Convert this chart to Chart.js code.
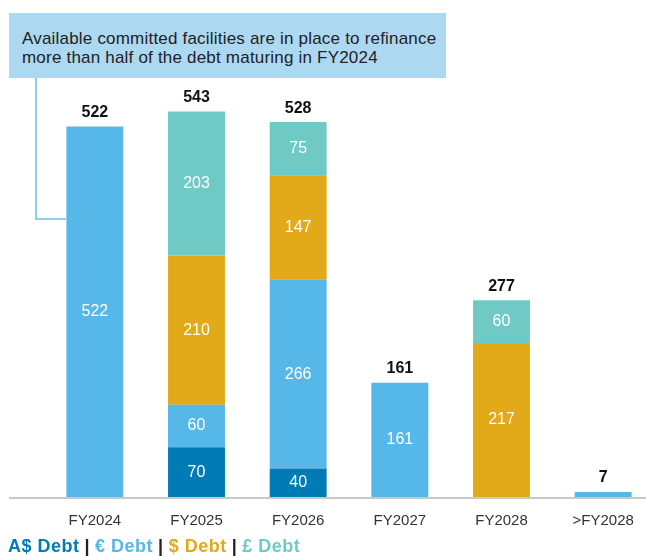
<!DOCTYPE html>
<html>
<head>
<meta charset="utf-8">
<script src="https://cdn.jsdelivr.net/npm/chart.js@4"></script>
<style>
  body { margin: 0; overflow: hidden; background: #fff; font-family: "Liberation Sans", Arial, sans-serif; }
  #wrap { position: relative; width: 646px; height: 556px; overflow: hidden; }
  #callout {
    position: absolute; left: 9px; top: 13px; width: 437px; height: 65px;
    background: #add8f1; color: #222; font-size: 17px; line-height: 19px; letter-spacing: 0.2px;
    box-sizing: border-box; padding: 16px 0 0 13px; white-space: nowrap;
  }
  #connector {
    position: absolute; left: 35px; top: 78px; width: 31px; height: 142px;
    border-left: 2px solid #8dcdf0; border-bottom: 2px solid #8dcdf0; box-sizing: border-box;
  }
  #legend { position: absolute; left: 8px; top: 536px; font-size: 18px; font-weight: bold; letter-spacing: 0.5px; white-space: nowrap; }
  #legend .sep { color: #222; margin: 0 5px; }
  canvas { position: absolute; left: 0; top: 0; }
</style>
</head>
<body>
<div id="wrap">
  <canvas id="debtChart" width="656" height="556"></canvas>
  <div id="callout">Available committed facilities are in place to refinance<br>more than half of the debt maturing in FY2024</div>
  <div id="connector"></div>
  <div id="legend"></div>
</div>
<script>
const years = ['FY2024', 'FY2025', 'FY2026', 'FY2027', 'FY2028', '>FY2028'];
const audDebt = [0, 70, 40, 0, 0, 0];
const eurDebt = [522, 60, 266, 161, 0, 7];
const usdDebt = [0, 210, 147, 0, 217, 0];
const gbpDebt = [0, 203, 75, 0, 60, 0];
const seriesNames = ['A$ Debt', '€ Debt', '$ Debt', '£ Debt'];
const seriesColors = ['#007bb6', '#55b8e8', '#e2a919', '#6fc9c5'];

const seriesValues = [audDebt, eurDebt, usdDebt, gbpDebt];
const totals = years.map((y, i) => seriesValues.reduce((s, arr) => s + arr[i], 0));

// legend text built from the series
const legendEl = document.getElementById('legend');
legendEl.innerHTML = seriesNames.map((n, i) =>
    `<span style="color:${seriesColors[i]}">${n}</span>`).join('<span class="sep">|</span>');

const labelPlugin = {
    id: 'barLabels',
    afterDatasetsDraw(chart) {
        const ctx = chart.ctx;
        ctx.save();
        ctx.textAlign = 'center';
        ctx.textBaseline = 'middle';
        // values inside segments
        ctx.font = '16px "Liberation Sans", Arial, sans-serif';
        ctx.fillStyle = '#ffffff';
        chart.data.datasets.forEach((ds, di) => {
            const meta = chart.getDatasetMeta(di);
            meta.data.forEach((bar, i) => {
                const v = ds.data[i];
                if (v < 20) return;
                ctx.fillText(v, bar.x, (bar.y + bar.base) / 2);
            });
        });
        // totals above stacks
        ctx.font = 'bold 16px "Liberation Sans", Arial, sans-serif';
        ctx.fillStyle = '#111';
        const yScale = chart.scales.y;
        const xScale = chart.scales.x;
        totals.forEach((t, i) => {
            ctx.fillText(t, xScale.getPixelForValue(i), yScale.getPixelForValue(t) - 14);
        });
        // baseline
        const y0 = yScale.getPixelForValue(0);
        ctx.strokeStyle = '#c8c8c8';
        ctx.lineWidth = 2;
        ctx.beginPath();
        ctx.moveTo(9, y0 + 1);
        ctx.lineTo(chart.width, y0 + 1);
        ctx.stroke();
        ctx.restore();
    }
};

const ctx = document.getElementById('debtChart').getContext('2d');
const debtChart = new Chart(ctx, {
    type: 'bar',
    data: {
        labels: years,
        datasets: seriesNames.map((n, i) => ({
            label: n,
            data: seriesValues[i],
            backgroundColor: seriesColors[i],
            borderWidth: 0,
            categoryPercentage: 1,
            barPercentage: 0.56
        }))
    },
    options: {
        responsive: false,
        animation: false,
        layout: { padding: { left: 44, right: 2, top: 71, bottom: 19 } },
        plugins: {
            legend: { display: false },
            tooltip: { enabled: false }
        },
        scales: {
            x: {
                stacked: true,
                grid: { display: false },
                border: { display: false },
                ticks: {
                    color: '#333',
                    font: { size: 15, family: '"Liberation Sans", Arial, sans-serif' },
                    padding: 7,
                    maxRotation: 0
                }
            },
            y: {
                stacked: true,
                display: false,
                min: 0,
                max: 600
            }
        }
    },
    plugins: [labelPlugin]
});
</script>
</body>
</html>
